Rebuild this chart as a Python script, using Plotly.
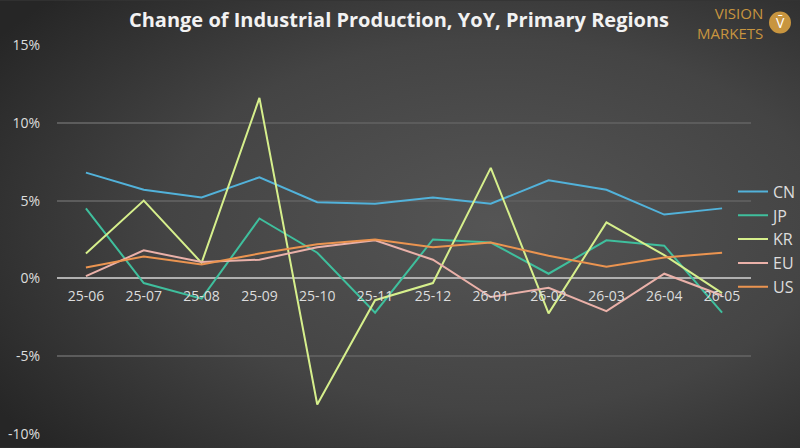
import plotly.graph_objects as go
import base64

months = ["25-06", "25-07", "25-08", "25-09", "25-10", "25-11",
          "25-12", "26-01", "26-02", "26-03", "26-04", "26-05"]
cn = [6.8, 5.7, 5.2, 6.5, 4.9, 4.8, 5.2, 4.8, 6.3, 5.7, 4.1, 4.5]
jp = [4.5, -0.3, -1.3, 3.85, 1.65, -2.2, 2.5, 2.3, 0.3, 2.45, 2.1, -2.2]
kr = [1.6, 5.0, 1.0, 11.6, -8.1, -1.4, -0.3, 7.1, -2.25, 3.6, 1.5, -0.95]
eu = [0.15, 1.8, 1.05, 1.2, 2.0, 2.45, 1.2, -1.2, -0.6, -2.1, 0.3, -1.1]
us = [0.7, 1.4, 0.9, 1.6, 2.2, 2.5, 2.0, 2.3, 1.45, 0.75, 1.35, 1.65]
y_ticks = [-10, -5, 0, 5, 10, 15]
y_labels = ["-10%", "-5%", "0%", "5%", "10%", "15%"]

series = [
    ("CN", cn, "#52b2da"),
    ("JP", jp, "#3fbf9d"),
    ("KR", kr, "#d6ef8c"),
    ("EU", eu, "#eab1a9"),
    ("US", us, "#eb9450"),
]

svg = """<svg xmlns='http://www.w3.org/2000/svg' width='800' height='448'>
<defs><radialGradient id='g' cx='0.62' cy='0.5' r='0.75' fx='0.62' fy='0.5'>
<stop offset='0' stop-color='#555555'/>
<stop offset='0.55' stop-color='#444444'/>
<stop offset='1' stop-color='#262626'/>
</radialGradient></defs>
<rect width='800' height='448' fill='url(#g)'/></svg>"""
bg_src = "data:image/svg+xml;base64," + base64.b64encode(svg.encode()).decode()

L, R, T, B = 57, 49, 44.5, 13.7
PW, PH = 800 - L - R, 448 - T - B


def px(x):
    return (x - L) / PW


def py(y):
    return 1 - (y - T) / PH


fig = go.Figure()
for name, vals, col in series:
    fig.add_trace(go.Scatter(x=months, y=vals, name=name, mode="lines",
                             line=dict(color=col, width=2)))

font_family = "Open Sans"
gold = "#c8953f"
fig.update_layout(
    width=800, height=448,
    margin=dict(l=L, r=R, t=T, b=B, autoexpand=False),
    paper_bgcolor="#333333",
    plot_bgcolor="rgba(0,0,0,0)",
    font=dict(family=font_family, color="#dddddd", size=14),
    title=dict(text="<b>Change of Industrial Production, YoY, Primary Regions</b>",
               x=px(399), xref="paper", xanchor="center", y=1 - 20 / 448, yanchor="middle",
               font=dict(size=20, color="#f2f2f2", family=font_family)),
    showlegend=True,
    legend=dict(x=px(733), xanchor="left", y=py(239), yanchor="middle",
                bgcolor="rgba(0,0,0,0)", font=dict(size=16, color="#dddddd"),
                tracegroupgap=0, itemwidth=30),
    images=[dict(source=bg_src, xref="paper", yref="paper", x=px(0), y=py(0),
                 sizex=800 / PW, sizey=448 / PH, xanchor="left", yanchor="top",
                 sizing="stretch", layer="below")],
    xaxis=dict(type="category", range=[-0.5, 11.5], showgrid=False, zeroline=False,
               showline=False, anchor="free", position=0.4, ticks="",
               ticklabelstandoff=8, tickfont=dict(size=14, color="#dddddd")),
    yaxis=dict(range=[-10, 15], tickvals=y_ticks, ticktext=y_labels,
               showgrid=True, gridcolor="#5c5c5c", gridwidth=1.5,
               zeroline=True, zerolinecolor="#b0b0b0", zerolinewidth=1.5,
               ticklabelstandoff=16, tickfont=dict(size=14, color="#dddddd")),
    shapes=[dict(type="circle", xref="paper", yref="paper",
                 x0=px(769), x1=px(791), y0=py(33), y1=py(11),
                 fillcolor=gold, line=dict(width=0))],
    annotations=[
        dict(text="VISION<br>MARKETS", xref="paper", yref="paper", x=px(765), y=py(22),
             xanchor="right", yanchor="middle", align="right", showarrow=False,
             font=dict(size=15, color=gold, family=font_family)),
        dict(text="V̄", xref="paper", yref="paper", x=px(780), y=py(22),
             xanchor="center", yanchor="middle", showarrow=False,
             font=dict(size=14, color="#ffffff", family=font_family)),
    ],
)

fig.write_html("out.html", config={"displayModeBar": False})
with open("out.html", "r", encoding="utf-8") as f:
    html = f.read()
html = html.replace("<head>", "<head><style>html,body{margin:0;padding:0;overflow:hidden;background:#333333;}</style>", 1)
with open("out.html", "w", encoding="utf-8") as f:
    f.write(html)
